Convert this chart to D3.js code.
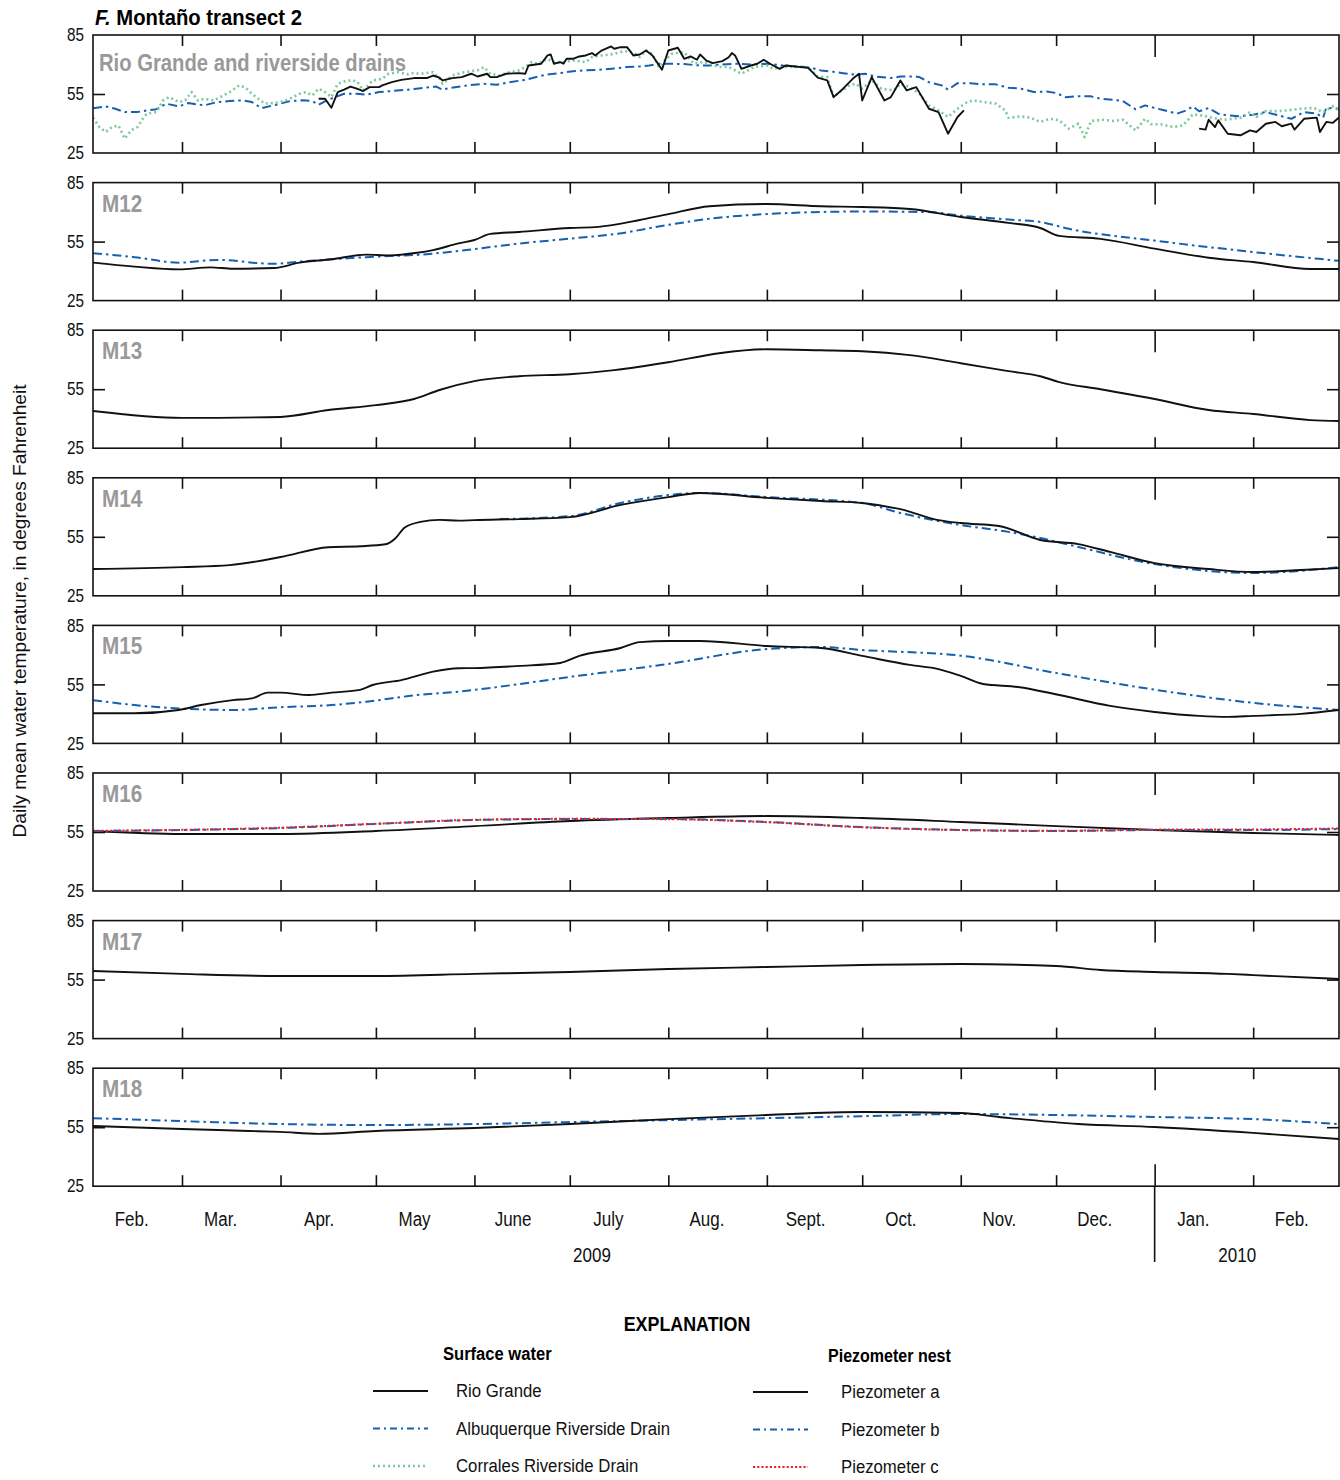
<!DOCTYPE html>
<html>
<head>
<meta charset="utf-8">
<script src="https://cdn.jsdelivr.net/npm/d3@7/dist/d3.min.js"></script>
<style>
  html, body { margin: 0; padding: 0; background: #fff; }
  svg text { font-family: "Liberation Sans", Arial, sans-serif; }
</style>
</head>
<body>
<svg id="chart" width="1340" height="1480"></svg>
<script>
// Record starts 1 Feb 2009; every series below is [day of record, °F].
const recordStart = new Date(2009, 1, 1);
const recordEnd = new Date(2010, 1, 28);

const yTickValues = [25, 55, 85];
const monthLabels = ["Feb.", "Mar.", "Apr.", "May", "June", "July", "Aug.", "Sept.", "Oct.", "Nov.", "Dec.", "Jan.", "Feb."];
const yearLabels = ["2009", "2010"];
const yearLabelDays = [157, 360];
const panelNames = ["Rio Grande and riverside drains", "M12", "M13", "M14", "M15", "M16", "M17", "M18"];
const surfaceLegend = ["Rio Grande", "Albuquerque Riverside Drain", "Corrales Riverside Drain"];
const piezoLegend = ["Piezometer a", "Piezometer b", "Piezometer c"];

// Surface water
const rioGrandeSpring = [[71,52.6],[73,52.6],[75,48],[77,56],[79,57.2],[81,58.8],[83,57.7],[85,56.5],[87,58.5],[90,58.5],[91,59.4],[94,61],[97,62.2],[101,63.1],[105,63.1],[107,64.4],[109,63.3],[110,61.9],[113,63.1],[116,63.6],[119,65.3],[121,63.9],[124,65.3],[125,63.6],[127,63.6],[130,65.3],[134,65.6],[136,65.3],[137,69.5],[141,70.4],[143,74.6],[144,75.1],[145,70.4],[147,71.2],[148,70.4],[149,72.9],[151,72.9],[153,74.1],[155,74.6],[157,75.8],[158,74.6],[160,77.1],[163,79.2],[164,78],[166,78.8],[168,78.8],[170,74.6],[172,75.1],[174,77.1],[176,74.6],[179,67.3],[181,77.1],[184,78.5],[186,72.9],[188,74.1],[190,72.4],[191,75.1],[193,72],[195,70.7],[198,71.7],[200,73.7],[201,75.8],[202,74.6],[204,67.8],[207,69.5],[209,70.4],[211,72.4],[213,70.4],[216,67.8],[218,69.5],[221,69],[225,68.3],[228,63.3],[231,61.9],[233,53.4],[236,57.7],[239,62.7],[241,65.3],[242,51.7],[245,63.6],[249,51.7],[251,53.4],[254,61.9],[256,56.8],[259,58.5],[263,47.5],[266,45.8],[269,34.8],[272,43.3],[274,46.7]];
const rioGrandeWinter = [[348,37.4],[350,36.9],[351,41.9],[353,38.2],[354,41.6],[357,34.8],[361,34],[364,36.5],[366,35.7],[369,39.9],[372,40.8],[374,38.6],[377,39.9],[378,36.9],[381,42.4],[385,43],[386,35.7],[388,40.8],[390,40.3],[392,43]];
const albuquerqueDrain = [[0,47.8],[4,48.7],[7,47.5],[10,45.8],[14,45.8],[17,46.7],[20,47.3],[23,50.1],[27,48.7],[30,50.4],[35,49.2],[39,50.9],[43,51.4],[47,51.8],[50,50.9],[53,47.8],[58,49.7],[62,51.4],[66,51.8],[69,51.4],[71,49.5],[74,52.1],[79,55.1],[83,55.1],[86,54.6],[90,56],[94,56.5],[99,57.2],[101,57.6],[105,58.3],[108,58.8],[110,57.2],[112,58],[118,59.4],[123,60.2],[127,59.7],[131,61],[136,62.2],[140,63.9],[143,64.9],[147,65.6],[151,66.6],[155,67],[159,67.3],[164,68],[168,68.7],[172,69],[175,69.5],[178,70.4],[182,70.4],[186,70.2],[190,69.6],[194,69.5],[198,70],[202,70.4],[207,70],[212,70.4],[217,69.5],[221,69],[224,68.7],[226,68.3],[229,67],[232,66.5],[236,65.6],[240,64.8],[243,65.3],[246,63.9],[251,63.1],[254,63.9],[257,63.9],[260,63.6],[263,61],[267,59.4],[269,57.2],[272,60.5],[276,60.5],[280,59.9],[284,59.9],[288,58.2],[292,57.7],[296,56],[300,56.3],[303,55.5],[306,53.4],[310,53.9],[314,53.8],[317,52.6],[321,52.1],[324,51.4],[328,47.2],[331,49.2],[334,47.9],[337,46.7],[341,45],[344,46.7],[346,48.7],[348,46.2],[351,47.9],[354,45],[357,44.1],[361,43.6],[365,44.5],[369,45.8],[373,44.1],[377,42.4],[381,45.8],[385,45],[387,43],[388,48],[392,47.5]];
const corralesDrain = [[0,43],[2,38.2],[4,35.7],[6,38.2],[8,39],[10,32.3],[12,36.5],[14,38.2],[16,43.3],[17,45],[20,45.8],[22,51.7],[24,53.4],[27,50.9],[29,51.7],[31,56],[33,51.7],[35,52.6],[38,51.7],[40,53.4],[43,56],[46,59.4],[48,58.2],[50,55.1],[52,52.6],[54,50.1],[57,50.4],[59,50.9],[62,52.6],[65,55.1],[67,56],[69,54.3],[71,57.7],[73,56],[75,53.4],[77,60.2],[80,61.9],[83,61.6],[85,56.8],[88,61.9],[91,62.7],[93,65.3],[96,66.1],[99,65],[100,65.6],[103,65.3],[107,66.1],[109,62.8],[110,60.2],[113,64.4],[117,66.1],[121,67],[123,68.7],[125,65.3],[128,64.4],[131,66.1],[134,67],[136,68.7],[138,71.2],[140,70.4],[143,72.9],[145,71.2],[148,71.2],[151,72.1],[155,71.2],[157,73.8],[160,74.6],[164,75.4],[167,76.8],[170,76.3],[172,73.8],[174,77.1],[176,75.4],[178,68.7],[180,72.1],[182,75.4],[186,76.3],[189,70.4],[192,71.2],[194,70.4],[197,68.7],[200,68.7],[204,65.3],[208,68.7],[212,69.5],[214,67.8],[217,68.7],[221,68.7],[225,68.7],[228,63.9],[231,63.6],[233,53.4],[235,56],[238,59.4],[240,60.2],[242,57.7],[245,61.9],[248,57.7],[252,56.8],[254,60.2],[257,58.5],[260,55.1],[263,49.2],[266,46.7],[269,43.3],[272,47.5],[275,50.9],[277,51.7],[280,50.9],[284,50.1],[287,46.7],[288,42.9],[292,43.6],[295,42.9],[298,40.8],[301,42.4],[304,41.6],[307,37.4],[310,39.9],[312,33.1],[314,41.3],[318,41.9],[321,41.3],[324,41.9],[328,36.5],[331,42.4],[333,39.6],[336,39.6],[340,38.2],[343,39.1],[346,44.6],[349,44.1],[352,42.9],[356,41.9],[361,42.9],[364,45.8],[366,43.3],[369,46.3],[373,46.3],[376,46.7],[380,47.5],[384,48],[387,45.8],[390,48.7],[392,46.7]];

// Piezometer nests
const m12a = [[0,44.3],[13,42.3],[27,40.9],[37,41.9],[44,41.2],[57,41.6],[65,44.3],[75,46],[86,48.4],[93,48],[102,49.3],[107,50.7],[115,54.1],[120,55.8],[125,58.9],[134,59.9],[150,61.9],[159,62.5],[172,66],[181,69],[194,73],[212,74.1],[229,73],[242,72.6],[257,71.6],[273,67.5],[288,64.5],[298,61.9],[304,57.9],[317,56.4],[334,51.4],[351,46.8],[365,44.6],[383,41.1],[392,41.1]];
const m12b = [[0,49.1],[13,47.1],[27,44.3],[39,45.7],[57,43.7],[65,44.8],[86,47.1],[105,48.6],[120,51.2],[134,54],[150,56.5],[165,59],[181,63.5],[196,67],[212,69],[242,70.3],[263,70],[273,68.2],[290,66],[298,65],[307,61.5],[334,55.5],[365,49.7],[392,45.2]];
const m13a = [[0,43.9],[28,40.4],[59,40.9],[74,44.4],[89,46.9],[101,50],[109,54.6],[120,59.1],[134,61.6],[150,62.6],[164,64.7],[181,68.7],[197,73.3],[212,75.3],[229,74.8],[242,74.3],[257,72.3],[273,68.2],[288,64.2],[298,61.6],[304,58.6],[317,55],[334,50],[351,44.4],[365,42.4],[383,39.3],[392,38.8]];
const m14a = [[0,38.6],[28,39.6],[43,40.6],[59,44.7],[74,49.7],[84,50.2],[92,51.2],[95,54],[98,59.6],[103,62.6],[109,63.6],[115,63.2],[120,63.5],[134,64],[150,65],[166,71.2],[181,75.2],[191,77.3],[212,74.8],[229,73.2],[242,72.2],[254,69.1],[266,63.5],[273,62],[285,60.5],[298,53.4],[310,51.3],[320,47.3],[334,41.6],[351,38.6],[365,37.1],[380,38.1],[392,39.1]];
const m14b = [[128,64],[150,65.5],[166,72.2],[181,76.2],[191,77.3],[212,75.2],[242,72.2],[254,67.1],[273,61],[288,57.5],[298,54.4],[310,49.8],[334,41.1],[365,36.6],[392,39.6]];
const m15a = [[0,40.3],[13,40.3],[27,42],[34,44.5],[44,47],[50,47.9],[55,50.8],[59,50.8],[68,49.6],[75,50.8],[84,52.2],[88,54.7],[97,57.2],[107,61.5],[115,63.2],[120,63.3],[134,64.4],[147,65.9],[153,69.5],[166,73.5],[172,76.5],[181,77.1],[191,77.1],[212,74.5],[229,73.5],[242,69.5],[257,64.9],[266,62.8],[273,59.3],[280,55.2],[291,53.7],[304,49.6],[320,44.1],[334,41],[348,39],[357,38.5],[365,39],[380,40],[392,42]];
const m15b = [[0,47],[13,44.5],[27,42.8],[44,42],[59,43.4],[75,44.5],[86,46.2],[102,49.6],[115,51.3],[120,52.2],[150,58.8],[181,65.4],[212,73],[229,74],[242,72.5],[273,69.6],[304,60.5],[334,52.3],[365,45.6],[392,42]];
const m16a = [[0,55.5],[28,54],[59,54],[89,55.5],[120,58],[150,60.6],[181,62.1],[212,63.1],[242,62.1],[273,60.1],[303,58],[334,56],[365,54.5],[392,53.5]];
const m16b = [[0,55.5],[28,56],[59,57],[89,59.1],[120,61.1],[150,61.6],[181,61.6],[212,60.1],[242,57.5],[273,56],[303,55.5],[334,56],[365,56],[392,56.5]];
const m16c = [[0,55.6],[28,56.1],[59,57.2],[89,59.2],[120,61.2],[150,61.7],[181,61.5],[212,60],[242,57.4],[273,56],[303,55.6],[334,56.2],[365,56.3],[392,56.8]];
const m17a = [[0,59.4],[28,57.9],[59,56.8],[89,56.8],[120,57.9],[150,58.9],[181,60.4],[212,61.4],[242,62.4],[273,62.9],[303,61.9],[317,59.9],[334,58.9],[357,57.9],[365,57.3],[392,55.3]];
const m18a = [[0,55.6],[28,54.1],[49,53.1],[59,52.6],[71,51.6],[89,53.1],[120,54.6],[150,56.6],[181,59.1],[212,61.2],[242,62.7],[273,62.2],[285,60.2],[310,56.6],[334,55.1],[365,52.1],[392,49]];
const m18b = [[0,59.6],[28,58.1],[59,56.6],[89,56.1],[120,56.6],[150,57.6],[181,58.6],[212,59.6],[242,60.6],[273,61.7],[303,61.2],[334,60.2],[365,59.1],[392,56.6]];

// Line styles
const styles = {
  solid:   { stroke: "#111", width: 1.9, dash: null },
  dashdot: { stroke: "#1560b0", width: 2, dash: "9,4,2.5,4" },
  green:   { stroke: "#7cc99a", width: 2.6, dash: "2,3" },
  red:     { stroke: "#e3262d", width: 2, dash: "2.2,2" }
};

const panels = [
  { name: panelNames[0], raw: true, series: [
      { data: albuquerqueDrain, style: "dashdot" },
      { data: corralesDrain, style: "green" },
      { data: rioGrandeSpring, style: "solid" },
      { data: rioGrandeWinter, style: "solid" } ] },
  { name: panelNames[1], series: [ { data: m12b, style: "dashdot" }, { data: m12a, style: "solid" } ] },
  { name: panelNames[2], series: [ { data: m13a, style: "solid" } ] },
  { name: panelNames[3], series: [ { data: m14b, style: "dashdot" }, { data: m14a, style: "solid" } ] },
  { name: panelNames[4], series: [ { data: m15b, style: "dashdot" }, { data: m15a, style: "solid" } ] },
  { name: panelNames[5], series: [ { data: m16a, style: "solid" }, { data: m16b, style: "dashdot" }, { data: m16c, style: "red" } ] },
  { name: panelNames[6], series: [ { data: m17a, style: "solid" } ] },
  { name: panelNames[7], series: [ { data: m18b, style: "dashdot" }, { data: m18a, style: "solid" } ] }
];

const svg = d3.select("#chart");
const left = 93, right = 1339;
const firstTop = 35, panelStep = 147.6, panelH = 118;
const tickLen = 11, yearTickLen = 22;
const narrow = 0.85;   // horizontal squeeze giving a condensed face

// squeeze rendered text horizontally, keeping its anchor point
function condense(sel, factor) {
  sel.each(function () {
    const w = this.getComputedTextLength();
    d3.select(this).attr("textLength", w * factor).attr("lengthAdjust", "spacingAndGlyphs");
  });
}

const dayToDate = d => new Date(recordStart.getTime() + d * 864e5);
const x = d3.scaleTime().domain([recordStart, recordEnd]).range([left, right]);
const monthStarts = d3.timeMonth.range(new Date(2009, 2, 1), new Date(2010, 1, 2));
const yearBreak = new Date(2010, 0, 1);

// Title
const title = svg.append("text")
  .attr("x", 95).attr("y", 25)
  .attr("font-size", 22).attr("font-weight", "bold");
title.append("tspan").attr("font-style", "italic").text("F.");
title.append("tspan").text(" Montaño transect 2");
condense(title, 0.92);

panels.forEach((p, i) => {
  const top = firstTop + i * panelStep;
  const y = d3.scaleLinear().domain([25, 85]).range([top + panelH, top]);
  const g = svg.append("g");

  // month ticks along the top and bottom edges, pointing inward
  const topAxis = g.append("g").attr("transform", `translate(0,${top})`)
    .call(d3.axisBottom(x).tickValues(monthStarts).tickSize(tickLen).tickFormat(""));
  const botAxis = g.append("g").attr("transform", `translate(0,${top + panelH})`)
    .call(d3.axisTop(x).tickValues(monthStarts).tickSize(tickLen).tickFormat(""));
  [topAxis, botAxis].forEach(a => {
    a.select(".domain").remove();
    a.selectAll("line").attr("stroke", "#111").attr("stroke-width", 1.6);
  });
  topAxis.selectAll(".tick line").filter(d => +d === +yearBreak).attr("y2", yearTickLen);
  if (i === panels.length - 1) {
    botAxis.selectAll(".tick line").filter(d => +d === +yearBreak).attr("y2", -yearTickLen);
  }

  // y labels and the inward 55 ticks on both sides
  const yl = g.append("g").attr("transform", `translate(${left},0)`)
    .call(d3.axisLeft(y).tickValues(yTickValues).tickSize(0).tickPadding(9));
  yl.select(".domain").remove();
  yl.selectAll("text").attr("font-size", 18).attr("fill", "#111")
    .style("font-family", '"Liberation Sans", Arial, sans-serif');
  condense(yl.selectAll("text"), narrow);
  const ylIn = g.append("g").attr("transform", `translate(${left},0)`)
    .call(d3.axisRight(y).tickValues([55]).tickSize(12).tickFormat(""));
  const yrIn = g.append("g").attr("transform", `translate(${right},0)`)
    .call(d3.axisLeft(y).tickValues([55]).tickSize(12).tickFormat(""));
  [ylIn, yrIn].forEach(a => {
    a.select(".domain").remove();
    a.selectAll("line").attr("stroke", "#111").attr("stroke-width", 1.6);
  });

  const clipId = "clip" + i;
  svg.append("clipPath").attr("id", clipId).append("rect")
    .attr("x", left).attr("y", top).attr("width", right - left).attr("height", panelH);

  const line = d3.line()
    .x(d => x(dayToDate(d[0])))
    .y(d => y(d[1]))
    .curve(p.raw ? d3.curveLinear : d3.curveMonotoneX);

  const lines = g.append("g").attr("clip-path", `url(#${clipId})`);
  p.series.forEach(s => {
    const st = styles[s.style];
    lines.append("path")
      .datum(s.data)
      .attr("d", line)
      .attr("fill", "none")
      .attr("stroke", st.stroke)
      .attr("stroke-width", st.width)
      .attr("stroke-linejoin", "round")
      .attr("stroke-dasharray", st.dash);
  });

  // frame
  g.append("rect")
    .attr("x", left).attr("y", top).attr("width", right - left).attr("height", panelH)
    .attr("fill", "none").attr("stroke", "#111").attr("stroke-width", 1.6);

  // panel label
  const lab = g.append("text")
    .attr("x", p.raw ? 99 : 102)
    .attr("y", top + (p.raw ? 36 : 29))
    .attr("font-size", 23).attr("font-weight", "bold")
    .attr("fill", "#999")
    .text(p.name);
  condense(lab, p.raw ? 0.88 : 0.9);
});

// Month and year labels under the last panel
const lastBottom = firstTop + (panels.length - 1) * panelStep + panelH;
const labelDates = d3.timeMonth.range(new Date(2009, 1, 1), new Date(2010, 1, 2)).map(d => d3.timeDay.offset(d, 12));
const mAxis = svg.append("g").attr("transform", `translate(0,${lastBottom})`)
  .call(d3.axisBottom(x).tickValues(labelDates).tickSize(0).tickPadding(26)
    .tickFormat((d, i) => monthLabels[i]));
mAxis.select(".domain").remove();
mAxis.selectAll("text").attr("font-size", 20).attr("fill", "#111")
  .style("font-family", '"Liberation Sans", Arial, sans-serif');
condense(mAxis.selectAll("text"), narrow);

const years = svg.append("g").selectAll("text").data(yearLabels).join("text")
  .attr("x", (d, i) => x(dayToDate(yearLabelDays[i])))
  .attr("y", 1262)
  .attr("text-anchor", "middle")
  .attr("font-size", 20).attr("fill", "#111")
  .text(d => d);
condense(years, narrow);

svg.append("line")
  .attr("x1", x(yearBreak)).attr("x2", x(yearBreak))
  .attr("y1", lastBottom).attr("y2", 1262)
  .attr("stroke", "#111").attr("stroke-width", 1.6);

// Y axis title
svg.append("text")
  .attr("transform", "translate(26,611) rotate(-90)")
  .attr("text-anchor", "middle")
  .attr("font-size", 19).attr("fill", "#111")
  .attr("textLength", 453).attr("lengthAdjust", "spacingAndGlyphs")
  .text("Daily mean water temperature, in degrees Fahrenheit");

// Explanation
const leg = svg.append("g");
condense(leg.append("text").attr("x", 687).attr("y", 1331).attr("text-anchor", "middle")
  .attr("font-size", 21).attr("font-weight", "bold").text("EXPLANATION"), narrow);
condense(leg.append("text").attr("x", 443).attr("y", 1360)
  .attr("font-size", 18).attr("font-weight", "bold").text("Surface water"), 0.92);
condense(leg.append("text").attr("x", 828).attr("y", 1362)
  .attr("font-size", 18).attr("font-weight", "bold").text("Piezometer nest"), 0.89);

const surfaceStyles = ["solid", "dashdot", "green"];
const piezoStyles = ["solid", "dashdot", "red"];
const drawLegend = (labels, keys, lx, tx, y0, step) => {
  labels.forEach((lab, i) => {
    const st = styles[keys[i]];
    const yy = y0 + i * step;
    leg.append("line").attr("x1", lx).attr("x2", lx + 55).attr("y1", yy).attr("y2", yy)
      .attr("stroke", st.stroke).attr("stroke-width", st.width)
      .attr("stroke-dasharray", keys[i] === "dashdot" ? "7,4,2,4" : st.dash);
    const t = leg.append("text").attr("x", tx).attr("y", yy + 6)
      .attr("font-size", 18).attr("fill", "#111").text(lab);
    condense(t, 0.93);
  });
};
drawLegend(surfaceLegend, surfaceStyles, 373, 456, 1391, 37.5);
drawLegend(piezoLegend, piezoStyles, 753, 841, 1392, 37.5);
</script>
</body>
</html>
